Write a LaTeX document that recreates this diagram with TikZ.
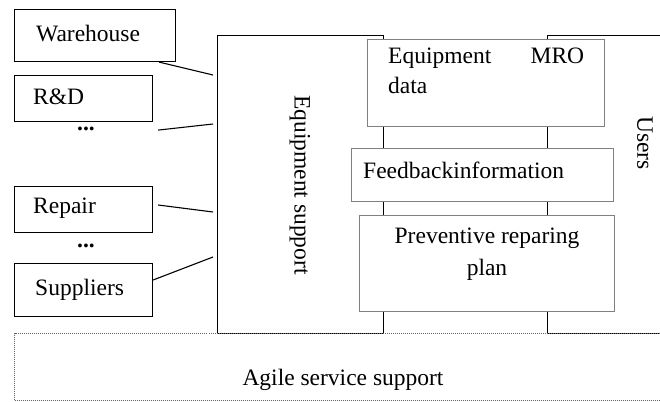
\documentclass[tikz,border=0pt]{standalone}
\usepackage{fontspec}
\setmainfont{Liberation Serif}
\begin{document}
\begin{tikzpicture}[x=1pt,y=-1pt,
  every node/.style={font=\fontsize{23.5}{27}\selectfont, inner sep=0pt},
  lbox/.style={draw=black, line width=1.1pt, anchor=north west},
  bigbox/.style={draw=black, line width=1.1pt, anchor=north west},
  mbox/.style={draw=black!50, line width=1pt, fill=white, anchor=north west},
  link/.style={draw=black, line width=1.1pt},
  lbl/.style={anchor=west}
]
\useasboundingbox (0,0) rectangle (660,401);
\clip (0,0) rectangle (660,401);
\fill[white] (0,0) rectangle (660,401);
% left boxes
\node[lbox, minimum width=161, minimum height=52] (wh) at (14,9) {};
\node[lbox, minimum width=138, minimum height=46] (rd) at (14,75) {};
\node[lbox, minimum width=138, minimum height=46] (rp) at (14,186) {};
\node[lbox, minimum width=138, minimum height=53] (sp) at (14,263) {};
\node[lbl] (twh) at (36,34) {Warehouse};
\node[lbl] (trd) at (33,97) {R\&D};
\node[lbl] (trp) at (33,208) {Repair};
\node[lbl] (tsp) at (35,290) {Suppliers};
\node[font=\fontsize{23.5}{27}\selectfont\bfseries] (d1) at (86,129) {...};
\node[font=\fontsize{23.5}{27}\selectfont\bfseries] (d2) at (86,246) {...};
% big boxes
\node[bigbox, minimum width=166, minimum height=298] (es) at (217,35) {};
\node[bigbox, minimum width=160, minimum height=298] (us) at (547,35) {};
\node[rotate=-90] (tes) at (300,185) {Equipment support};
\node[rotate=-90] (tus) at (645,143) {Users};
% dotted box
\node[draw=black!60, line width=1pt, dash pattern=on 1pt off 1pt, anchor=north west, minimum width=700, minimum height=67] (ag) at (14,333) {};
\node (tag) at (343,380) {Agile service support};
% middle boxes
\node[mbox, minimum width=237, minimum height=87] (mro) at (367,39) {};
\node[mbox, minimum width=262, minimum height=53] (fb) at (351,148) {};
\node[mbox, minimum width=255, minimum height=96] (pv) at (359,215) {};
\node[anchor=north west, align=left] (tmro) at (388,48) {\parbox{196pt}{\fontsize{23.5}{30}\selectfont Equipment\hfill MRO\\data}};
\node[lbl] (tfb) at (363,170) {Feedbackinformation};
\node[align=center, font=\fontsize{23.5}{32}\selectfont] (tpv) at (487,254) {Preventive reparing\\plan};
% connectors
\coordinate (e1) at (213,75);
\coordinate (e2) at (213,124);
\coordinate (e3) at (213,212);
\coordinate (e4) at (213,257);
\draw[link] ([xshift=-17pt]wh.south east) -- (e1);
\draw[link] ([xshift=5pt,yshift=-8pt]rd.south east) -- (e2);
\draw[link] ([xshift=5pt,yshift=-19pt]rp.north east) -- (e3);
\draw[link] ([yshift=-17pt]sp.north east) -- (e4);
\end{tikzpicture}
\end{document}
